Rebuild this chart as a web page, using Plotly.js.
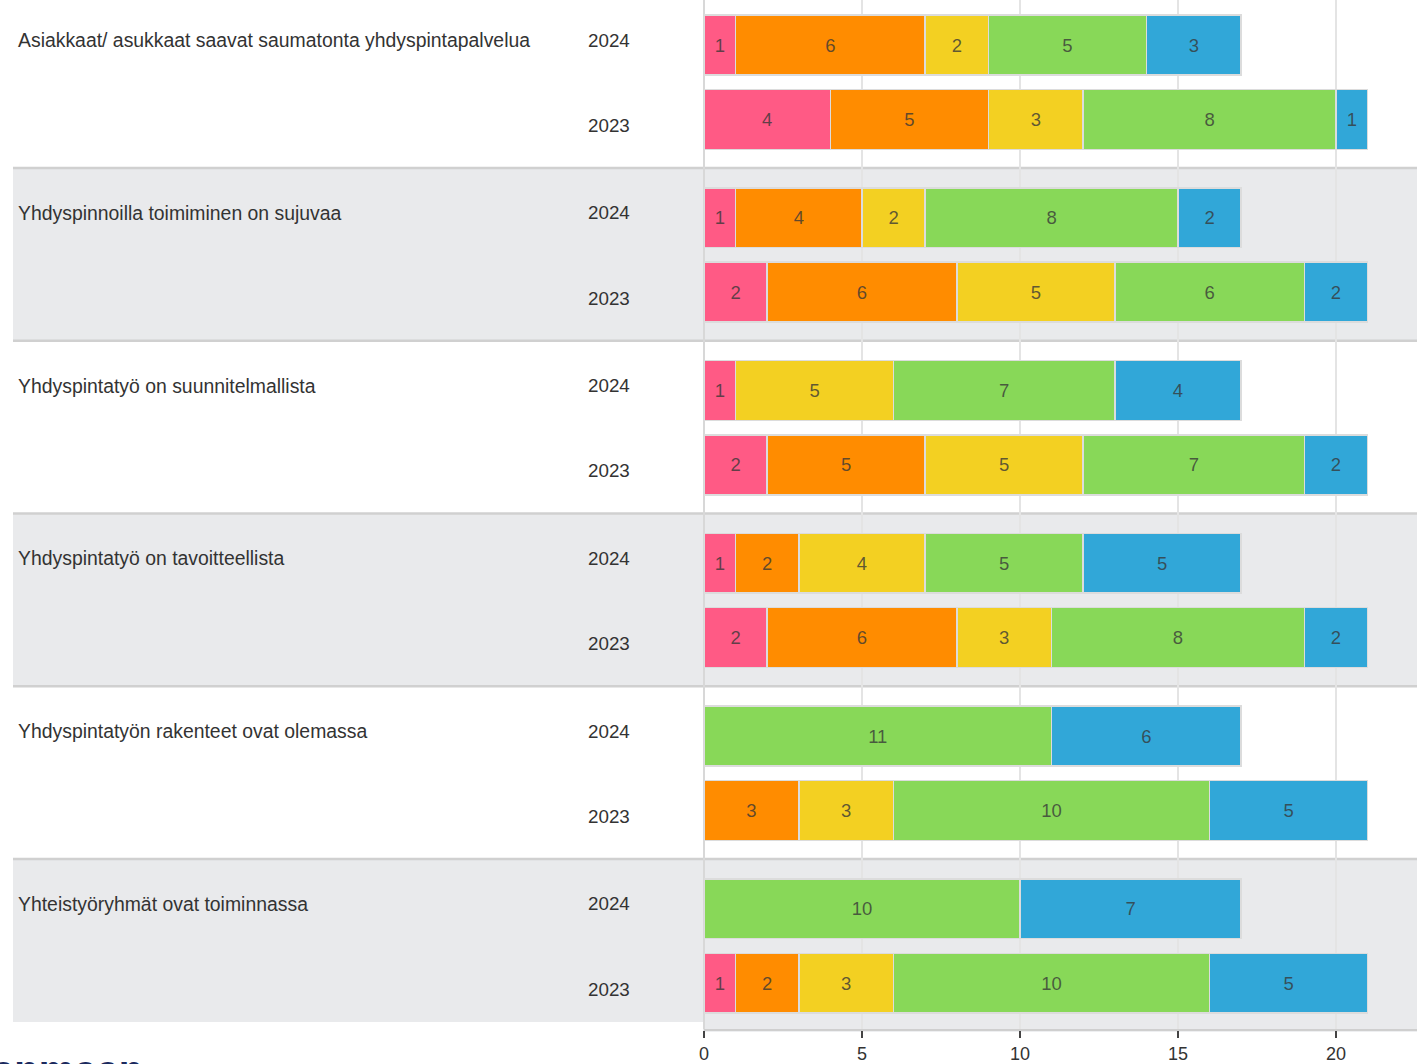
<!DOCTYPE html>
<html>
<head>
<meta charset="utf-8">
<script src="https://cdn.plot.ly/plotly-3.0.1.min.js"></script>
<style>html,body{margin:0;padding:0;background:#fff;}#chart{width:1417px;height:1064px;}</style>
</head>
<body>
<div id="chart"></div>
<script>
// ---- Data ----
const questions = [
  "Asiakkaat/ asukkaat saavat saumatonta yhdyspintapalvelua",
  "Yhdyspinnoilla toimiminen on sujuvaa",
  "Yhdyspintatyö on suunnitelmallista",
  "Yhdyspintatyö on tavoitteellista",
  "Yhdyspintatyön rakenteet ovat olemassa",
  "Yhteistyöryhmät ovat toiminnassa"
];
const years = ["2024", "2023"];
// order per question: [2024, 2023]
const s1 = [1, 4, 1, 2, 1, 2, 1, 2, 0, 0, 0, 1];
const s2 = [6, 5, 4, 6, 0, 5, 2, 6, 0, 3, 0, 2];
const s3 = [2, 3, 2, 5, 5, 5, 4, 3, 0, 3, 0, 3];
const s4 = [5, 8, 8, 6, 7, 7, 5, 8, 11, 10, 10, 10];
const s5 = [3, 1, 2, 2, 4, 2, 5, 2, 6, 5, 7, 5];
const seriesValues = [s1, s2, s3, s4, s5];
const seriesNames = ["1", "2", "3", "4", "5"];
const xTicks = [0, 5, 10, 15, 20];

// ---- Styling / layout constants ----
const colors = ["#ff5a85", "#ff8c00", "#f3d022", "#88d858", "#31a7d8"];
const rowOffsets = [0.288, 0.719];
const barWidth = 0.347;
const yTop = 0.0275, yBottom = 5.984;
const W = 1417, H = 1064, ML = 704, MB = 35;
const plotW = W - ML;
const plotH = H - MB;
const pxToPaperX = px => (px - ML) / plotW;
const pxToPaperY = py => 1 - py / plotH;
const yToPaper = y => (yBottom - y) / (yBottom - yTop);
const FONT = "Liberation Sans, Arial, sans-serif";

const yPos = [];
questions.forEach((q, g) => years.forEach((yr, k) => yPos.push(g + rowOffsets[k])));

const traces = seriesValues.map((vals, i) => ({
  type: "bar",
  orientation: "h",
  name: seriesNames[i],
  y: yPos,
  x: vals,
  width: barWidth,
  text: vals.map(v => v > 0 ? String(v) : ""),
  textposition: "inside",
  insidetextanchor: "middle",
  constraintext: "none",
  textfont: {family: FONT, size: 18.5, color: "rgba(55,55,55,0.78)"},
  marker: {color: colors[i], line: {color: "#dcdcdc", width: 1.5}},
  hoverinfo: "skip"
}));

const shapes = [];
const leftX = pxToPaperX(13);
questions.forEach((q, g) => {
  if (g % 2 === 1) {
    shapes.push({type: "rect", xref: "paper", yref: "paper", layer: "below",
      x0: leftX, x1: 1, y0: yToPaper(g), y1: yToPaper(g + 1),
      fillcolor: "#e9eaec", line: {width: 0}});
  }
  if (g > 0) {
    shapes.push({type: "line", xref: "paper", yref: "paper", layer: "below",
      x0: leftX, x1: 1, y0: yToPaper(g), y1: yToPaper(g),
      line: {color: "#d0d0d0", width: 2.5}});
  }
});
// left panel ends slightly above the plot bottom
shapes.push({type: "rect", xref: "paper", yref: "paper", layer: "below",
  x0: leftX - 0.01, x1: pxToPaperX(703), y0: pxToPaperY(1036), y1: pxToPaperY(1022),
  fillcolor: "#ffffff", line: {width: 0}});

const annotations = [];
questions.forEach((q, g) => {
  annotations.push({xref: "paper", yref: "y", x: pxToPaperX(16), y: g + rowOffsets[0],
    xanchor: "left", yanchor: "middle", yshift: 5, showarrow: false, text: q,
    font: {family: FONT, size: 19.4, color: "#333"}});
  years.forEach((yr, k) => {
    annotations.push({xref: "paper", yref: "y", x: pxToPaperX(586), y: g + rowOffsets[k],
      xanchor: "left", yanchor: "middle", yshift: k === 0 ? 5 : -6, showarrow: false, text: yr,
      font: {family: FONT, size: 18.8, color: "#333"}});
  });
});
annotations.push({xref: "paper", yref: "paper", x: pxToPaperX(145), y: -(1046 - plotH) / plotH,
  xanchor: "right", yanchor: "top", showarrow: false, text: "<b>anmaan</b>",
  font: {family: FONT, size: 40, color: "#1b2a5e"}});

const layout = {
  width: W, height: H,
  margin: {l: ML, r: 0, t: 0, b: MB, pad: 0},
  paper_bgcolor: "#ffffff",
  plot_bgcolor: "rgba(0,0,0,0)",
  barmode: "stack",
  showlegend: false,
  xaxis: {range: [0, plotW / 31.6], tickvals: xTicks, ticktext: xTicks.map(String),
    showgrid: true, gridcolor: "#e4e4e4", gridwidth: 1.5,
    zeroline: true, zerolinecolor: "#d8d8d8", zerolinewidth: 1.5,
    ticks: "outside", ticklen: 7, tickcolor: "#444", tickwidth: 1.5,
    showline: true, linecolor: "#cfcfcf", linewidth: 2,
    tickfont: {family: FONT, size: 18, color: "#333"}, fixedrange: true},
  yaxis: {range: [yBottom, yTop], showticklabels: false, showgrid: false,
    zeroline: false, showline: false, ticks: "", fixedrange: true},
  shapes: shapes,
  annotations: annotations
};

Plotly.newPlot("chart", traces, layout, {displayModeBar: false, staticPlot: true});
</script>
</body>
</html>
